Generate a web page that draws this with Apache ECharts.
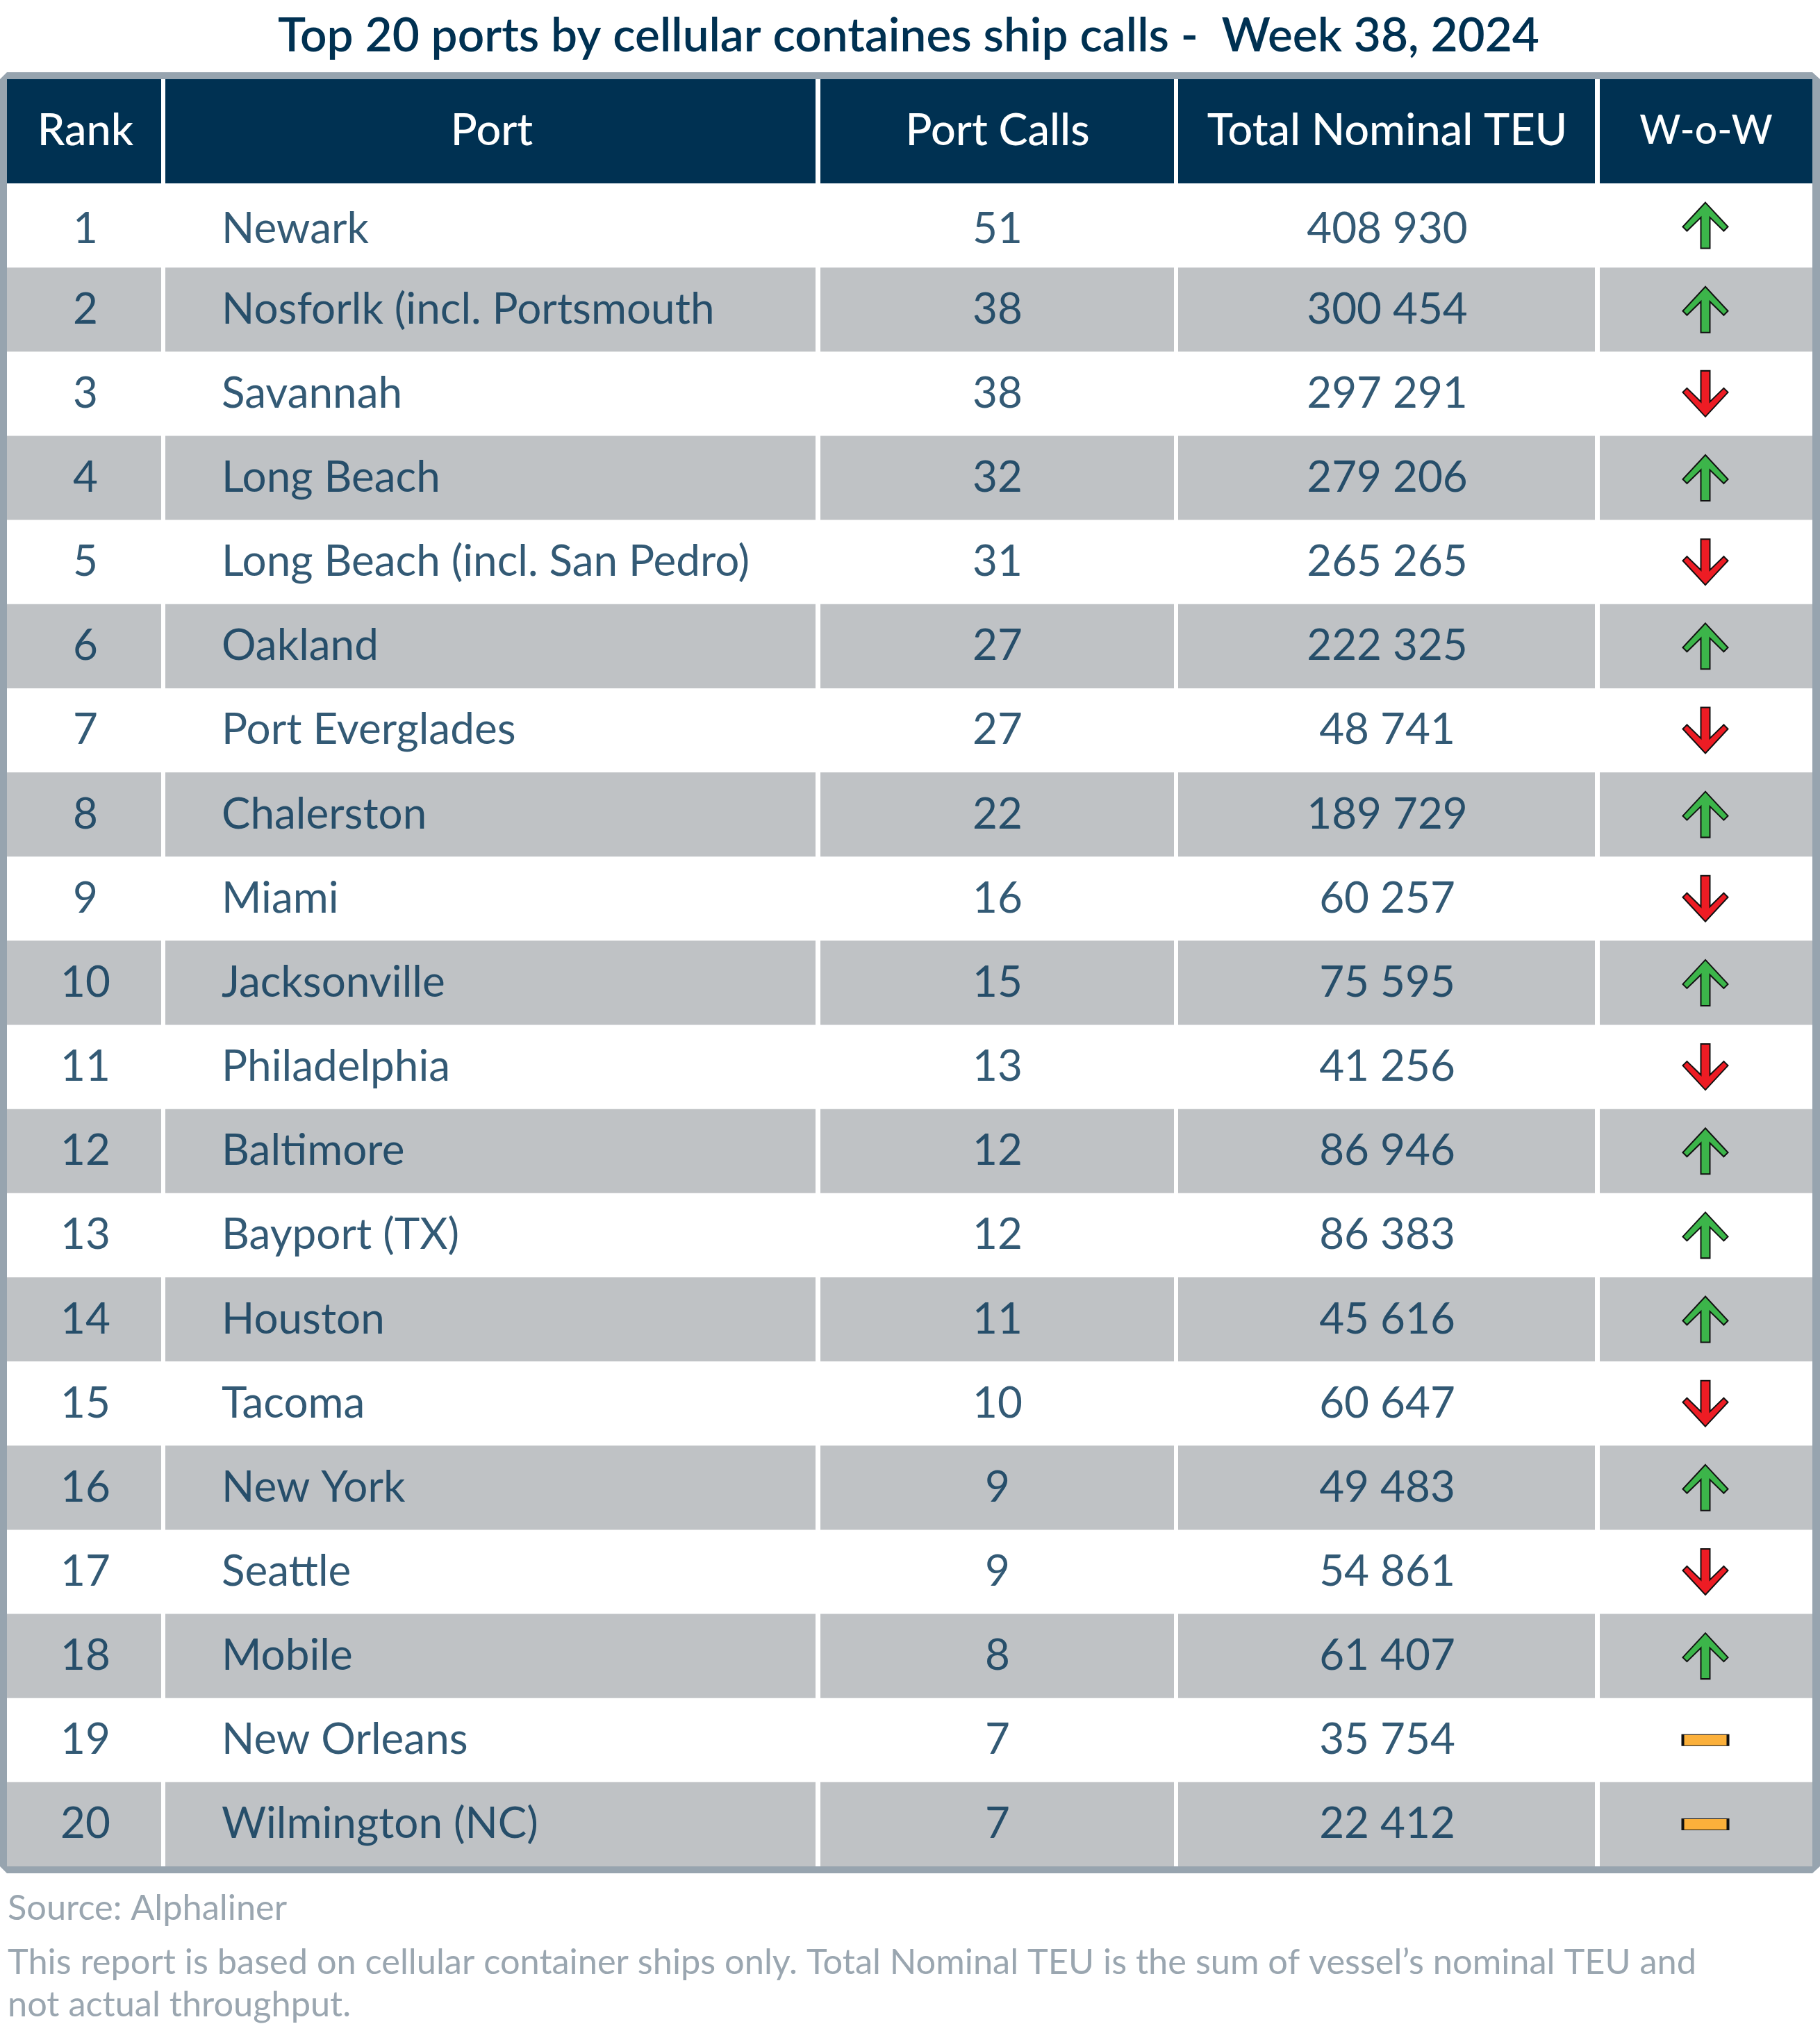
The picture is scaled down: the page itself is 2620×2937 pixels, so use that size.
<!DOCTYPE html>
<html>
<head>
<meta charset="utf-8">
<title>Top 20 ports by cellular container ship calls</title>
<script src="https://cdn.jsdelivr.net/npm/echarts@6/dist/echarts.min.js"></script>
<style>
  html, body { margin: 0; padding: 0; background: #fff; }
  #chart { width: 2620px; height: 2937px; }
</style>
</head>
<body>
<div id="chart"></div>
<script>
const titleText = 'Top 20 ports by cellular containes ship calls -  Week 38, 2024';
const headers = ['Rank', 'Port', 'Port Calls', 'Total Nominal TEU', 'W-o-W'];
const ranks = ['1', '2', '3', '4', '5', '6', '7', '8', '9', '10', '11', '12', '13', '14', '15', '16', '17', '18', '19', '20'];
const ports = ['Newark', 'Nosforlk (incl. Portsmouth', 'Savannah', 'Long Beach', 'Long Beach (incl. San Pedro)', 'Oakland',
  'Port Everglades', 'Chalerston', 'Miami', 'Jacksonville', 'Philadelphia', 'Baltimore', 'Bayport (TX)', 'Houston',
  'Tacoma', 'New York', 'Seattle', 'Mobile', 'New Orleans', 'Wilmington (NC)'];
const portCalls = [51, 38, 38, 32, 31, 27, 27, 22, 16, 15, 13, 12, 12, 11, 10, 9, 9, 8, 7, 7];
const totalTeu = [408930, 300454, 297291, 279206, 265265, 222325, 48741, 189729, 60257, 75595,
  41256, 86946, 86383, 45616, 60647, 49483, 54861, 61407, 35754, 22412];
const wow = ['up', 'up', 'down', 'up', 'down', 'up', 'down', 'up', 'down', 'up',
  'down', 'up', 'up', 'up', 'down', 'up', 'down', 'up', 'flat', 'flat'];
const footnotes = ['Source: Alphaliner',
  'This report is based on cellular container ships only. Total Nominal TEU is the sum of vessel\u2019s nominal TEU and',
  'not actual throughput.'];

// layout, in page pixels
const columnEdges = [[10, 232], [238, 1174], [1181, 1690], [1696, 2296], [2303, 2609]];
const centers = columnEdges.map(e => (e[0] + e[1]) / 2);
const textCenters = [123, 708, 1436, 1997, 2456];
const portLeft = 319;
const NAVY = '#003152', GRAY = '#bfc2c5', FRAME = '#97a4af', FOOT = '#9aa6b0';
const FONT = 'Lato';
const BODY_SIZE = 62;
const headerSizes = [63, 63, 63, 63, 57];

const ARROW_UP = 'path://M32.5 0L65 35L59 41L39 21.5L39 66L26 66L26 21.5L6 41L0 35Z';
const ARROW_DOWN = 'path://M32.5 66L65 31L59 25L39 44.5L39 0L26 0L26 44.5L6 25L0 31Z';
const wowStyle = {
  up: { symbol: ARROW_UP, size: [65, 66], color: '#3cb54a' },
  down: { symbol: ARROW_DOWN, size: [65, 66], color: '#ed1c24' },
  flat: { symbol: 'rect', size: [65, 16], color: '#fbb03b' }
};

const fmtTeu = v => {
  const s = String(v);
  return s.slice(0, -3) + ' ' + s.slice(-3);
};

// one text column: invisible points on the axes carrying a label
function textColumn(x, texts, align) {
  return {
    type: 'scatter',
    symbolSize: 0,
    silent: true,
    data: texts.map((t, i) => ({
      value: [x, i],
      name: String(t),
      // first row sits a little lower in the original
      label: { offset: [0, i === 0 ? 5 : 0] }
    })),
    label: {
      show: true,
      position: 'inside',
      align: align,
      verticalAlign: 'middle',
      formatter: p => p.name,
      color: NAVY,
      fontFamily: FONT,
      fontWeight: 400,
      fontSize: BODY_SIZE
    },
    z: 5
  };
}

const chart = echarts.init(document.getElementById('chart'));
chart.setOption({
  animation: false,
  backgroundColor: '#fff',
  grid: { left: 0, right: 0, top: 264, bottom: 250 },
  xAxis: { type: 'value', min: 0, max: 2620, show: false },
  yAxis: { type: 'category', data: ranks, inverse: true, show: false },
  title: {
    text: titleText,
    left: 1303,
    top: 13,
    textAlign: 'center',
    textStyle: { color: NAVY, fontFamily: FONT, fontWeight: 600, fontSize: 67.5 }
  },
  graphic: [
    {
      type: 'polygon',
      z: -10,
      shape: { points: [[10, 104], [2609, 104], [2620, 114], [2620, 2687], [2609, 2697], [10, 2697], [0, 2687], [0, 114]] },
      style: { fill: FRAME }
    },
    {
      type: 'rect',
      z: -9,
      shape: { x: 10, y: 114, width: 2599, height: 2573 },
      style: { fill: '#fff' }
    },
    ...columnEdges.map(e => ({
      type: 'rect',
      z: -8,
      shape: { x: e[0], y: 114, width: e[1] - e[0], height: 150 },
      style: { fill: NAVY }
    })),
    ...headers.map((h, i) => ({
      type: 'text',
      z: -7,
      style: {
        text: h,
        x: textCenters[i],
        y: 189,
        align: 'center',
        verticalAlign: 'middle',
        fill: '#fff',
        font: '500 ' + headerSizes[i] + 'px ' + FONT
      }
    })),
    ...footnotes.map((t, i) => ({
      type: 'text',
      z: -7,
      style: {
        text: t,
        x: 11,
        y: [2748, 2826, 2887][i],
        align: 'left',
        verticalAlign: 'middle',
        fill: FOOT,
        font: '400 50.5px ' + FONT
      }
    }))
  ],
  series: [
    {
      // grey bands on every second row, split at the column gaps
      type: 'custom',
      silent: true,
      z: 1,
      encode: { y: 0 },
      data: ranks.map((r, i) => [i]),
      renderItem(params, api) {
        const i = api.value(0);
        if (i % 2 === 0) return { type: 'group', children: [] };
        const c = api.coord([0, i]);
        const h = api.size([0, 1])[1];
        return {
          type: 'group',
          children: columnEdges.map(e => ({
            type: 'rect',
            shape: { x: e[0], y: c[1] - h / 2, width: e[1] - e[0], height: h },
            style: { fill: GRAY }
          }))
        };
      }
    },
    textColumn(textCenters[0], ranks, 'center'),
    textColumn(portLeft, ports, 'left'),
    textColumn(textCenters[2], portCalls, 'center'),
    textColumn(textCenters[3], totalTeu.map(fmtTeu), 'center'),
    {
      type: 'scatter',
      silent: true,
      z: 4,
      data: wow.map((w, i) => ({
        value: [2455, i],
        symbol: wowStyle[w].symbol,
        symbolSize: wowStyle[w].size,
        itemStyle: { color: wowStyle[w].color, borderColor: '#111', borderWidth: 2, opacity: 1 }
      }))
    }
  ]
});
</script>
</body>
</html>
